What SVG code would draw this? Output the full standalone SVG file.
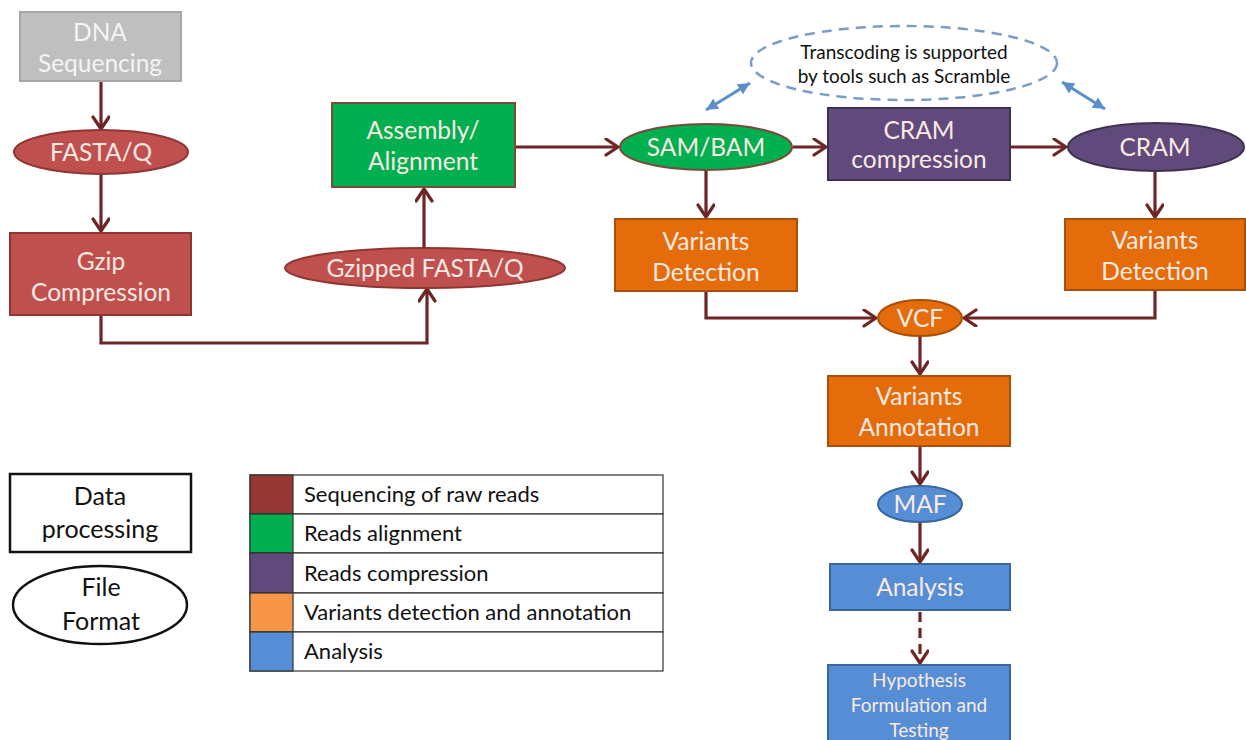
<svg xmlns="http://www.w3.org/2000/svg" width="1246" height="740" viewBox="0 0 1246 740">
<defs>
<marker id="chev" markerUnits="userSpaceOnUse" markerWidth="18" markerHeight="20" refX="14" refY="9" orient="auto">
<path d="M2,1 L14,9 L2,17" fill="none" stroke="#6e2525" stroke-width="3.2" stroke-linecap="round" stroke-linejoin="round"/>
</marker>
<marker id="bh" markerUnits="userSpaceOnUse" markerWidth="14" markerHeight="12" refX="12" refY="6" orient="auto-start-reverse">
<path d="M0,0 L12,6 L0,12 Z" fill="#5b8fcb"/>
</marker>
<style>
text{font-family:Lato,"Open Sans","Liberation Sans",sans-serif;text-anchor:middle}
.t{font-size:24.5px;fill:#fbe9e4}
.lt{font-size:25px;fill:#111}
.red{fill:#c0504d;stroke:#8e3634;stroke-width:2}
.grn{fill:#00b050;stroke:#7a4a3a;stroke-width:2}
.pur{fill:#604a7b;stroke:#3f3151;stroke-width:2}
.org{fill:#e46c0a;stroke:#a8500a;stroke-width:2}
.blu{fill:#558ed5;stroke:#3a679e;stroke-width:2}
.c{fill:none;stroke:#6e2525;stroke-width:3.2;marker-end:url(#chev)}
.leg{fill:#fff;stroke:#333;stroke-width:1.2}
.lg{font-size:22px;fill:#111;text-anchor:start}
.tr{font-size:19px;fill:#111}
.hy{font-size:19px}
</style>
</defs>
<rect width="1246" height="740" fill="#fff"/>
<g id="connectors">
<path class="c" d="M101,82 V129"/>
<path class="c" d="M101,174 V231"/>
<path class="c" d="M101,316 V343 H427 V289"/>
<path class="c" d="M424,248 V189"/>
<path class="c" d="M515,147 H618"/>
<path class="c" d="M793,147 H826"/>
<path class="c" d="M1011,147 H1066"/>
<path class="c" d="M706,170 V217"/>
<path class="c" d="M1155,172 V217"/>
<path class="c" d="M706,292 V318 H876"/>
<path class="c" d="M1155,291 V318 H964"/>
<path class="c" d="M920,336 V374"/>
<path class="c" d="M920,447 V484"/>
<path class="c" d="M920,522 V562"/>
<path class="c" d="M920,612 V663" stroke-dasharray="10,6"/>
<path d="M706,110 L750,83" fill="none" stroke="#5b8fcb" stroke-width="3" marker-start="url(#bh)" marker-end="url(#bh)"/>
<path d="M1062,82 L1105,109" fill="none" stroke="#5b8fcb" stroke-width="3" marker-start="url(#bh)" marker-end="url(#bh)"/>
</g>
<g id="dna"><rect x="20" y="12" width="161" height="69" fill="#bfbfbf" stroke="#a6a6a6" stroke-width="2"/><text class="t" x="100" y="41" style="fill:#f4f4f4">DNA</text><text class="t" x="100" y="72" style="fill:#f4f4f4">Sequencing</text></g>
<g id="fastaq"><ellipse class="red" cx="101" cy="152" rx="87" ry="22"/><text class="t" x="101" y="161">FASTA/Q</text></g>
<g id="gzip"><rect class="red" x="10" y="233" width="181" height="82"/><text class="t" x="101" y="270">Gzip</text><text class="t" x="101" y="301">Compression</text></g>
<g id="gzipped"><ellipse class="red" cx="425" cy="268" rx="140" ry="20"/><text class="t" x="425" y="277">Gzipped FASTA/Q</text></g>
<g id="assembly"><rect class="grn" x="332" y="103" width="183" height="84"/><text class="t" x="423" y="139">Assembly/</text><text class="t" x="423" y="170">Alignment</text></g>
<g id="sambam"><ellipse class="grn" cx="706" cy="147" rx="86" ry="23"/><text class="t" x="706" y="156">SAM/BAM</text></g>
<g id="cramcomp"><rect class="pur" x="828" y="108" width="182" height="72"/><text class="t" x="919" y="139">CRAM</text><text class="t" x="919" y="168">compression</text></g>
<g id="cram"><ellipse class="pur" cx="1156" cy="147" rx="88" ry="24"/><text class="t" x="1155" y="156">CRAM</text></g>
<g id="transcoding"><ellipse cx="904" cy="63" rx="153" ry="37" fill="none" stroke="#7a9cc6" stroke-width="2.5" stroke-dasharray="10,7"/><text class="tr" x="904" y="59">Transcoding is supported</text><text class="tr" x="904" y="83">by tools such as Scramble</text></g>
<g id="vd1"><rect class="org" x="615" y="219" width="182" height="72"/><text class="t" x="706" y="250">Variants</text><text class="t" x="706" y="281">Detection</text></g>
<g id="vd2"><rect class="org" x="1065" y="219" width="180" height="71"/><text class="t" x="1155" y="249">Variants</text><text class="t" x="1155" y="280">Detection</text></g>
<g id="vcf"><ellipse class="org" cx="920" cy="318" rx="42" ry="18"/><text class="t" x="920" y="327">VCF</text></g>
<g id="va"><rect class="org" x="828" y="376" width="182" height="70"/><text class="t" x="919" y="405">Variants</text><text class="t" x="919" y="436">Annotation</text></g>
<g id="maf"><ellipse class="blu" cx="920" cy="504" rx="42" ry="18"/><text class="t" x="920" y="513">MAF</text></g>
<g id="analysis"><rect class="blu" x="830" y="564" width="180" height="46"/><text class="t" x="920" y="596">Analysis</text></g>
<g id="hypothesis"><rect class="blu" x="828" y="665" width="182" height="80"/><text class="t hy" x="919" y="687">Hypothesis</text><text class="t hy" x="919" y="712">Formulation and</text><text class="t hy" x="919" y="737">Testing</text></g>
<g id="legend-data"><rect x="10" y="474" width="181" height="78" fill="#fff" stroke="#111" stroke-width="2.5"/><text class="lt" x="100" y="505">Data</text><text class="lt" x="100" y="538">processing</text></g>
<g id="legend-file"><ellipse cx="100" cy="605" rx="87" ry="39" fill="#fff" stroke="#111" stroke-width="2.5"/><text class="lt" x="101" y="596">File</text><text class="lt" x="101" y="630">Format</text></g>
<g id="legend-table">
<rect class="leg" x="250" y="475" width="413" height="39"/><rect x="250" y="475" width="43" height="39" fill="#953735" stroke="#333" stroke-width="1.2"/><text class="lg" x="304" y="502">Sequencing of raw reads</text>
<rect class="leg" x="250" y="514" width="413" height="39"/><rect x="250" y="514" width="43" height="39" fill="#00b050" stroke="#333" stroke-width="1.2"/><text class="lg" x="304" y="541">Reads alignment</text>
<rect class="leg" x="250" y="553" width="413" height="40"/><rect x="250" y="553" width="43" height="40" fill="#604a7b" stroke="#333" stroke-width="1.2"/><text class="lg" x="304" y="581">Reads compression</text>
<rect class="leg" x="250" y="593" width="413" height="39"/><rect x="250" y="593" width="43" height="39" fill="#f79646" stroke="#333" stroke-width="1.2"/><text class="lg" x="304" y="620">Variants detection and annotation</text>
<rect class="leg" x="250" y="632" width="413" height="39"/><rect x="250" y="632" width="43" height="39" fill="#558ed5" stroke="#333" stroke-width="1.2"/><text class="lg" x="304" y="659">Analysis</text>
</g>
</svg>
